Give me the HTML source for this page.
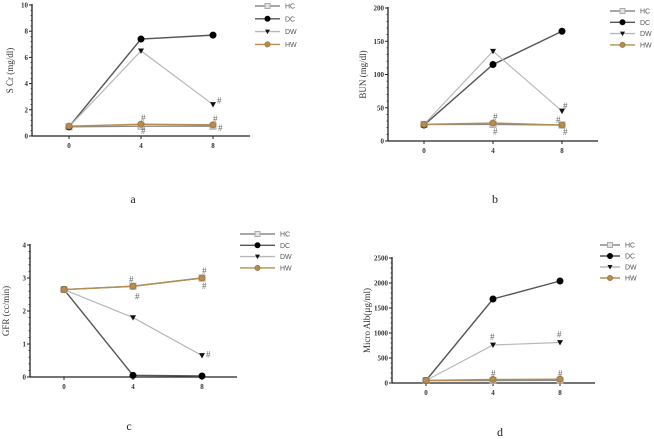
<!DOCTYPE html>
<html><head><meta charset="utf-8">
<style>
html,body{margin:0;padding:0;background:#fff;}
svg{display:block;font-family:"Liberation Serif",serif;}
.leg{font-family:"Liberation Sans",sans-serif;font-size:7px;fill:#555;}
.tick{font-size:7px;font-weight:bold;fill:#333;}
</style></head>
<body>
<svg id="fig" width="654" height="439" viewBox="0 0 654 439"></svg>
<script>
const weeks = [0, 4, 8];
const seriesNames = ["HC", "DC", "DW", "HW"];
// Panel a: S Cr
const aTicks = [0, 2, 4, 6, 8, 10];
const aHC = [0.7, 0.75, 0.75];
const aDC = [0.7, 7.4, 7.7];
const aDW = [0.7, 6.5, 2.4];
const aHW = [0.75, 0.9, 0.85];
// Panel b: BUN
const bTicks = [0, 50, 100, 150, 200];
const bHC = [25, 25, 24];
const bDC = [24, 115, 165];
const bDW = [25, 135, 45];
const bHW = [25, 27, 24];
// Panel c: GFR
const cTicks = [0, 1, 2, 3, 4];
const cHC = [2.65, 2.75, 3.0];
const cDC = [2.65, 0.05, 0.03];
const cDW = [2.65, 1.8, 0.65];
const cHW = [2.65, 2.75, 3.0];
// Panel d: Micro Alb
const dTicks = [0, 500, 1000, 1500, 2000, 2500];
const dHC = [50, 50, 55];
const dDC = [50, 1680, 2040];
const dDW = [50, 760, 810];
const dHW = [50, 70, 75];

const NS = "http://www.w3.org/2000/svg";
const svg = document.getElementById("fig");
function mk(tag, attrs, parent) {
  const e = document.createElementNS(NS, tag);
  for (const k in attrs) e.setAttribute(k, attrs[k]);
  (parent || svg).appendChild(e);
  return e;
}
const styles = {
  HC: {line: "#8a8a8a", w: 1.4, marker: "square", fill: "#e2e2e2", stroke: "#aaa"},
  DC: {line: "#555", w: 1.4, marker: "circle", fill: "#000", stroke: "#000"},
  DW: {line: "#b8b8b8", w: 1.2, marker: "tri", fill: "#111", stroke: "#111"},
  HW: {line: "#b58d52", w: 1.4, marker: "circle", fill: "#b58d52", stroke: "#a07a40"}
};
function marker(g, name, x, y, r) {
  const s = styles[name];
  let m;
  if (s.marker === "circle") m = mk("circle", {cx: x, cy: y, r: r, fill: s.fill, stroke: s.stroke}, g);
  else if (s.marker === "square") m = mk("rect", {x: x - r, y: y - r, width: 2 * r, height: 2 * r, fill: s.fill, stroke: s.stroke}, g);
  else m = mk("path", {d: `M${x - r},${y - r * 0.8} L${x + r},${y - r * 0.8} L${x},${y + r}Z`, fill: s.fill}, g);
  
  
}
function panel(p) {
  const g = mk("g", {});
  
  
  const maxV = p.ticks[p.ticks.length - 1];
  const Y = v => p.y0 + (p.yTop - p.y0) * v / maxV;
  const X = w => p.xs[0] + (p.xs[1] - p.xs[0]) * w / 4;
  // axes
  const ya = mk("line", {x1: p.ax, y1: p.yTop - 1, x2: p.ax, y2: p.y0, stroke: "#222", "stroke-width": 1.3}, g);
  
  
  const xa = mk("line", {x1: p.ax, y1: p.y0, x2: p.xEnd, y2: p.y0, stroke: "#222", "stroke-width": 1.3}, g);
  
  
  p.ticks.forEach((t, i) => {
    const y = Y(t);
    mk("line", {x1: p.ax - 3, y1: y, x2: p.ax, y2: y, stroke: "#222", "stroke-width": 1}, g);
    if (i < p.ticks.length - 1) for (let k = 1; k < 5; k++) {
      const ym = Y(t + (p.ticks[1] - p.ticks[0]) * k / 5);
      mk("line", {x1: p.ax - 1.5, y1: ym, x2: p.ax, y2: ym, stroke: "#222", "stroke-width": 0.7}, g);
    }
    const tl = mk("text", {x: p.ax - 4, y: y + 2.5, "text-anchor": "end", class: "tick"}, g);
    tl.textContent = t;
    
    
  });
  weeks.forEach(w => {
    const x = X(w);
    mk("line", {x1: x, y1: p.y0, x2: x, y2: p.y0 + 3, stroke: "#222"}, g);
    const tl = mk("text", {x: x, y: p.y0 + 12, "text-anchor": "middle", class: "tick"}, g);
    tl.textContent = w;
    
    
  });
  const yt = mk("text", {transform: `translate(${p.titleX},${(p.yTop + p.y0) / 2}) rotate(-90)`, "text-anchor": "middle", "font-size": 9, fill: "#333"}, g);
  yt.textContent = p.title;
  
  
  // series
  seriesNames.forEach((n, si) => {
    const vals = p.data[si];
    const s = styles[n];
    const pl = mk("polyline", {points: vals.map((v, i) => X(weeks[i]) + "," + Y(v)).join(" "), fill: "none", stroke: s.line, "stroke-width": s.w}, g);
    
    
  });
  seriesNames.forEach((n, si) => {
    p.data[si].forEach((v, i) => marker(g, n, X(weeks[i]), Y(v), n === "DC" ? 3 : 3));
  });
  // hashes
  p.hashes.forEach(h => {
    const t = mk("text", {x: X(h[0]) + h[2], y: Y(h[1]) + h[3], "font-size": 9, fill: "#666"}, g);
    t.textContent = "#";
    
    
  });
  // legend
  seriesNames.forEach((n, i) => {
    const ly = p.legY + i * p.legDy;
    const lg = mk("g", {}, g);
    
    
    mk("line", {x1: p.legX, y1: ly, x2: p.legX + p.legW, y2: ly, stroke: styles[n].line, "stroke-width": 1.4}, lg);
    marker(lg, n, p.legX + p.legW / 2, ly, 2.5);
    const tx = mk("text", {x: p.legX + p.legW + 5, y: ly + 2.5, class: "leg"}, lg);
    tx.textContent = n;
  });
  const lab = mk("text", {x: p.labX, y: p.labY, "text-anchor": "middle", "font-size": 12, fill: "#222"}, g);
  lab.textContent = p.id;
  
  
}
panel({id: "a", title: "S Cr (mg/dl)", ticks: aTicks, data: [aHC, aDC, aDW, aHW],
  ax: 32, yTop: 5, y0: 136, xs: [69, 141], xEnd: 250, titleX: 13,
  legX: 255, legY: 6, legDy: 12.8, legW: 25, labX: 133, labY: 203,
  hashes: [[8, 2.4, 4, -1], [4, 0.9, 0, -3], [4, 0.75, 0, 8], [8, 0.85, 0, -3], [8, 0.75, 5, 5]]});
panel({id: "b", title: "BUN (mg/dl)", ticks: bTicks, data: [bHC, bDC, bDW, bHW],
  ax: 388, yTop: 8, y0: 141, xs: [424, 493], xEnd: 598, titleX: 366,
  legX: 610, legY: 11, legDy: 11.3, legW: 25, labX: 495, labY: 203,
  hashes: [[8, 45, 1, -2], [4, 27, 0, -3], [4, 25, 0, 10], [8, 24, -6, -2], [8, 24, 1, 10]]});
panel({id: "c", title: "GFR (cc/min)", ticks: cTicks, data: [cHC, cDC, cDW, cHW],
  ax: 30, yTop: 245, y0: 377, xs: [64, 133], xEnd: 237, titleX: 9,
  legX: 240, legY: 234, legDy: 11.3, legW: 35, labX: 129, labY: 430,
  hashes: [[4, 2.75, -4, -4], [4, 2.75, 2, 13], [8, 3.0, 0, -4], [8, 3.0, 0, 11], [8, 0.65, 4, 2]]});
panel({id: "d", title: "Micro Alb(\u00b5g/ml)", ticks: dTicks, data: [dHC, dDC, dDW, dHW],
  ax: 392, yTop: 258, y0: 383, xs: [426, 493], xEnd: 595, titleX: 370,
  legX: 600, legY: 245, legDy: 11, legW: 20, labX: 500, labY: 436,
  hashes: [[4, 760, -3, -5], [8, 810, -3, -5], [4, 70, -2, -3], [8, 75, -2, -3]]});
</script>
</body></html>
